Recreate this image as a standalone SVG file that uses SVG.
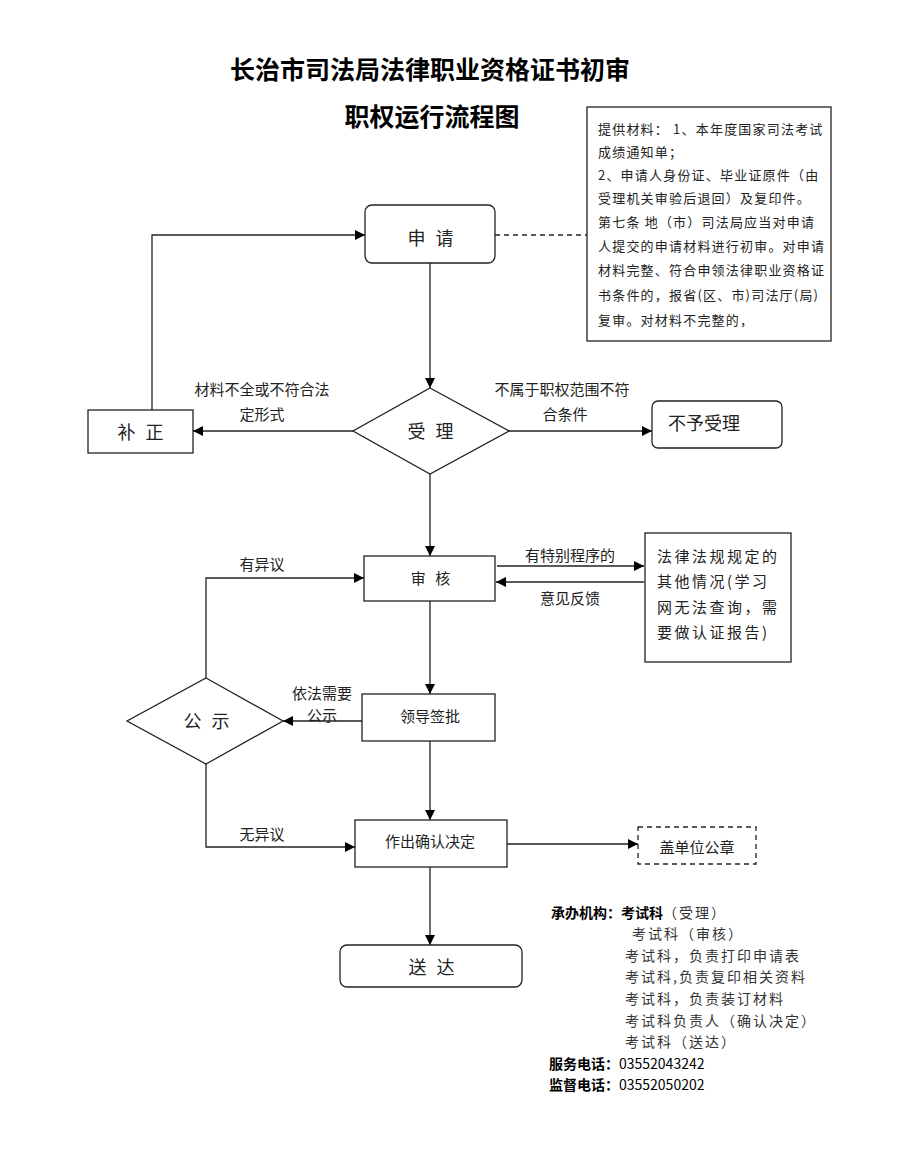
<svg xmlns="http://www.w3.org/2000/svg" width="900" height="1160" viewBox="0 0 900 1160">
<style>
text{font-family:"Noto Sans CJK SC","Liberation Sans",sans-serif;fill:#222;dominant-baseline:central}
.t{font-size:25px;font-weight:bold;fill:#000;text-anchor:middle}
.n{font-size:18px;text-anchor:middle}
.sp{letter-spacing:3px}
.m{font-size:15px;text-anchor:middle}
.s{font-size:13px;letter-spacing:1.2px}
.b{font-size:14px;font-weight:bold;fill:#000}
.g{font-size:14px;letter-spacing:2px;fill:#333}
.w{font-size:15px;letter-spacing:2.5px}
.box{fill:#fff;stroke:#222;stroke-width:1.3}
.c{fill:none;stroke:#222;stroke-width:1.3}
</style>
<defs>
<marker id="ah" viewBox="0 0 10 10" refX="10" refY="5" markerWidth="10" markerHeight="10" markerUnits="userSpaceOnUse" orient="auto">
<path d="M0,0 L10,5 L0,10 z" fill="#000"/>
</marker>
</defs>
<rect width="900" height="1160" fill="#fff"/>
<g id="title">
<text class="t" x="430" y="68">长治市司法局法律职业资格证书初审</text>
<text class="t" x="432" y="115">职权运行流程图</text>
</g>
<g id="connectors">
<line class="c" x1="495" y1="235" x2="587" y2="235" stroke-dasharray="5,4"/>
<polyline class="c" points="152,410 152,235 365,235" marker-end="url(#ah)"/>
<line class="c" x1="430" y1="263" x2="430" y2="388" marker-end="url(#ah)"/>
<line class="c" x1="353" y1="431" x2="193" y2="431" marker-end="url(#ah)"/>
<line class="c" x1="509" y1="431" x2="652" y2="431" marker-end="url(#ah)"/>
<line class="c" x1="430" y1="474" x2="430" y2="556" marker-end="url(#ah)"/>
<line class="c" x1="497" y1="566" x2="644" y2="566" marker-end="url(#ah)"/>
<line class="c" x1="644" y1="582" x2="496" y2="582" marker-end="url(#ah)"/>
<polyline class="c" points="206,678 206,578 364,578" marker-end="url(#ah)"/>
<line class="c" x1="430" y1="601" x2="430" y2="694" marker-end="url(#ah)"/>
<line class="c" x1="362" y1="721" x2="283" y2="721" marker-end="url(#ah)"/>
<polyline class="c" points="206,764 206,847 355,847" marker-end="url(#ah)"/>
<line class="c" x1="430" y1="741" x2="430" y2="820" marker-end="url(#ah)"/>
<line class="c" x1="507" y1="844" x2="638" y2="844" marker-end="url(#ah)"/>
<line class="c" x1="430" y1="867" x2="430" y2="945" marker-end="url(#ah)"/>
<text class="m" x="262" y="388">材料不全或不符合法</text>
<text class="m" x="262" y="413">定形式</text>
<text class="m" x="562" y="388">不属于职权范围不符</text>
<text class="m" x="565" y="413">合条件</text>
<text class="m" x="570" y="554">有特别程序的</text>
<text class="m" x="570" y="597">意见反馈</text>
<text class="m" x="262" y="563">有异议</text>
<text class="m" x="322" y="692">依法需要</text>
<text class="m" x="322" y="714">公示</text>
<text class="m" x="262" y="833">无异议</text>
</g>
<g id="info">
<rect class="box" x="587" y="107" width="244" height="234"/>
<text class="s" x="598" y="128">提供材料： 1、本年度国家司法考试</text>
<text class="s" x="598" y="151">成绩通知单；</text>
<text class="s" x="598" y="174">2、申请人身份证、毕业证原件（由</text>
<text class="s" x="598" y="197">受理机关审验后退回）及复印件。</text>
<text class="s" x="598" y="221">第七条 地（市）司法局应当对申请</text>
<text class="s" x="598" y="245">人提交的申请材料进行初审。对申请</text>
<text class="s" x="598" y="269">材料完整、符合申领法律职业资格证</text>
<text class="s" x="598" y="294">书条件的，报省(区、市)司法厅(局)</text>
<text class="s" x="598" y="319">复审。对材料不完整的，</text>
</g>
<g id="apply">
<rect class="box" x="365" y="205" width="130" height="58" rx="7"/>
<text class="n sp" x="432" y="237">申 请</text>
</g>
<g id="accept">
<polygon class="box" points="430,388 509,431 430,474 353,431"/>
<text class="n sp" x="432" y="430">受 理</text>
</g>
<g id="correct">
<rect class="box" x="88" y="410" width="105" height="43"/>
<text class="n sp" x="142" y="431">补 正</text>
</g>
<g id="reject">
<rect class="box" x="652" y="401" width="130" height="47" rx="6"/>
<text class="n" x="704" y="422">不予受理</text>
</g>
<g id="review">
<rect class="box" x="364" y="556" width="131" height="45"/>
<text class="m sp" x="432" y="577">审 核</text>
</g>
<g id="special">
<rect class="box" x="645" y="533" width="146" height="129"/>
<text class="w" x="657" y="555">法律法规规定的</text>
<text class="w" x="657" y="580">其他情况(学习</text>
<text class="w" x="657" y="606">网无法查询，需</text>
<text class="w" x="657" y="631">要做认证报告)</text>
</g>
<g id="approve">
<rect class="box" x="362" y="694" width="133" height="47"/>
<text class="m" x="430" y="715">领导签批</text>
</g>
<g id="publicity">
<polygon class="box" points="206,678 283,721 206,764 127,721"/>
<text class="n sp" x="208" y="720">公 示</text>
</g>
<g id="decide">
<rect class="box" x="355" y="820" width="152" height="47"/>
<text class="m" x="430" y="840">作出确认决定</text>
</g>
<g id="seal">
<rect class="box" x="638" y="827" width="118" height="37" stroke-dasharray="5,4"/>
<text class="m" x="697" y="846">盖单位公章</text>
</g>
<g id="deliver">
<rect class="box" x="340" y="945" width="182" height="42" rx="7"/>
<text class="n sp" x="433" y="966">送 达</text>
</g>
<g id="notes">
<text class="b" x="551" y="912">承办机构：考试科<tspan style="font-weight:normal;fill:#333;letter-spacing:2px">（受理）</tspan></text>
<text class="g" x="632" y="933">考试科（审核）</text>
<text class="g" x="625" y="955">考试科，负责打印申请表</text>
<text class="g" x="625" y="976">考试科,负责复印相关资料</text>
<text class="g" x="625" y="998">考试科，负责装订材料</text>
<text class="g" x="625" y="1020">考试科负责人（确认决定）</text>
<text class="g" x="625" y="1041">考试科（送达）</text>
<text class="b" x="549" y="1063">服务电话：<tspan style="font-weight:normal">03552043242</tspan></text>
<text class="b" x="549" y="1084">监督电话：<tspan style="font-weight:normal">03552050202</tspan></text>
</g>
</svg>
